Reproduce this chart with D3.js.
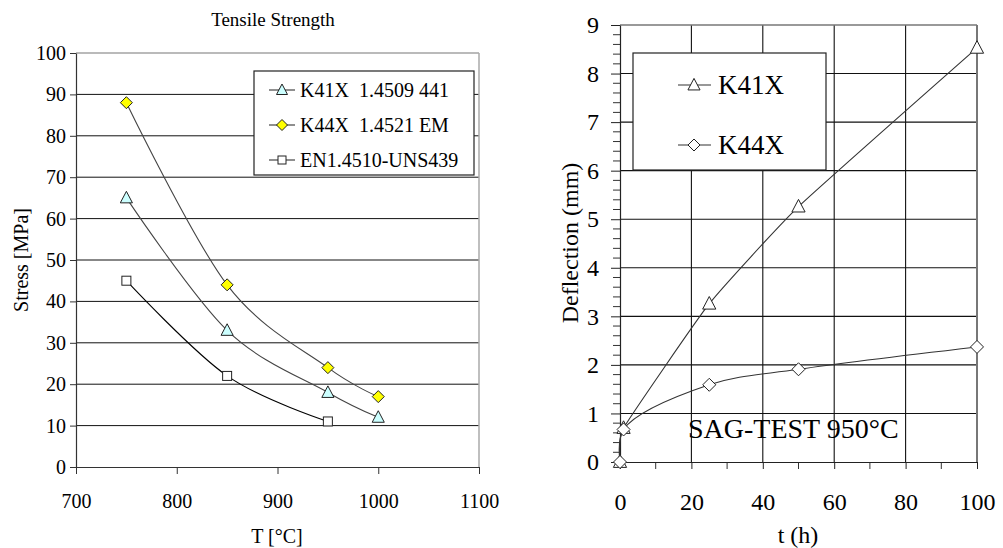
<!DOCTYPE html>
<html>
<head>
<meta charset="utf-8">
<script src="https://cdn.jsdelivr.net/npm/d3@7"></script>
<style>
  body { margin: 0; background: #fff; }
  text { font-family: "Liberation Serif", "Times New Roman", serif; fill: #000; }
</style>
</head>
<body>
<svg id="chart" width="1003" height="548"></svg>
<script>
// left chart: tensile strength
const tempTicks = [700, 800, 900, 1000, 1100];
const stressTicks = [0, 10, 20, 30, 40, 50, 60, 70, 80, 90, 100];
const tensileSeries = ["K41X  1.4509 441", "K44X  1.4521 EM", "EN1.4510-UNS439"];
const k41xTemp = [750, 850, 950, 1000];
const k41xStress = [65, 33, 18, 12];
const k44xTemp = [750, 850, 950, 1000];
const k44xStress = [88, 44, 24, 17];
const enTemp = [750, 850, 950];
const enStress = [45, 22, 11];

// right chart: sag test
const hourTicks = [0, 20, 40, 60, 80, 100];
const deflTicks = [0, 1, 2, 3, 4, 5, 6, 7, 8, 9];
const sagSeries = ["K41X", "K44X"];
const k41xHours = [0, 1, 25, 50, 100];
const k41xDefl = [0, 0.7, 3.26, 5.26, 8.53];
const k44xHours = [0, 1, 25, 50, 100];
const k44xDefl = [0, 0.67, 1.59, 1.91, 2.37];

const SERIF = "'Liberation Serif', 'Times New Roman', serif";
const svg = d3.select("#chart");

function zip(xs, ys) {
  return xs.map((x, i) => [x, ys[i]]);
}

function marker(sel, shape, size, fill) {
  if (shape == "triangle") {
    sel.append("path").attr("d", `M0,${-size*0.6}L${size*0.55},${size*0.45}L${-size*0.55},${size*0.45}Z`);
  } else if (shape == "diamond") {
    sel.append("path").attr("d", `M0,${-size/2}L${size/2},0L0,${size/2}L${-size/2},0Z`);
  } else {
    sel.append("rect").attr("x", -size/2).attr("y", -size/2).attr("width", size).attr("height", size);
  }
  sel.selectAll("path,rect").attr("fill", fill).attr("stroke", "#222").attr("stroke-width", 1);
}

function label(g, txt, size) {
  return g.append("text").style("font-family", SERIF).style("font-size", size + "px").text(txt);
}

// ---------- left chart ----------
(function () {
  const x = d3.scaleLinear().domain([700, 1100]).range([76, 479]);
  const y = d3.scaleLinear().domain([0, 100]).range([467, 53]);
  const g = svg.append("g");

  label(g, "Tensile Strength", 19).attr("x", 273).attr("y", 26).attr("text-anchor", "middle");

  // gridlines
  g.selectAll(".grid").data(stressTicks.slice(1, -1)).enter().append("line")
    .attr("x1", x(700)).attr("x2", x(1100))
    .attr("y1", d => y(d)).attr("y2", d => y(d))
    .attr("stroke", "#111").attr("stroke-width", 1);
  // plot border
  g.append("line").attr("x1", x(700)).attr("x2", x(1100)).attr("y1", y(100)).attr("y2", y(100))
    .attr("stroke", "#777").attr("stroke-width", 1.2);
  g.append("line").attr("x1", x(1100)).attr("x2", x(1100)).attr("y1", y(100)).attr("y2", y(0))
    .attr("stroke", "#aaa").attr("stroke-width", 1.5);

  const yAxis = g.append("g").attr("transform", `translate(${x(700)},0)`)
    .call(d3.axisLeft(y).tickValues(stressTicks).tickSize(6).tickPadding(4).tickSizeOuter(0));
  const xAxis = g.append("g").attr("transform", `translate(0,${y(0)})`)
    .call(d3.axisBottom(x).tickValues(tempTicks).tickFormat(d3.format("d"))
      .tickSize(7).tickPadding(20).tickSizeOuter(0));
  [xAxis, yAxis].forEach(a => {
    a.attr("font-family", null);
    a.select(".domain").attr("stroke", "#333").attr("stroke-width", 1.2);
    a.selectAll(".tick line").attr("stroke", "#333");
    a.selectAll("text").style("font-size", "20px").style("font-family", SERIF);
  });

  label(g, "Stress [MPa]", 20).attr("transform", "translate(28,260) rotate(-90)").attr("text-anchor", "middle");
  label(g, "T [°C]", 20).attr("x", 277).attr("y", 543).attr("text-anchor", "middle");

  const line = d3.line().x(d => x(d[0])).y(d => y(d[1])).curve(d3.curveCardinal.tension(0));
  const series = [
    { pts: zip(k41xTemp, k41xStress), shape: "triangle", fill: "#ccffff", color: "#444", size: 11 },
    { pts: zip(k44xTemp, k44xStress), shape: "diamond", fill: "#ffff00", color: "#444", size: 12 },
    { pts: zip(enTemp, enStress), shape: "square", fill: "#fff", color: "#000", size: 9 }
  ];
  series.forEach(s => {
    g.append("path").attr("d", line(s.pts)).attr("fill", "none")
      .attr("stroke", s.color).attr("stroke-width", 1.1);
    s.pts.forEach(p => {
      marker(g.append("g").attr("transform", `translate(${x(p[0])},${y(p[1])})`), s.shape, s.size, s.fill);
    });
  });

  // legend
  const lg = g.append("g");
  lg.append("rect").attr("x", 254).attr("y", 71).attr("width", 220).attr("height", 104)
    .attr("fill", "#fff").attr("stroke", "#222").attr("stroke-width", 1.2);
  tensileSeries.forEach((name, i) => {
    const ly = 90 + i * 35;
    lg.append("line").attr("x1", 269).attr("x2", 295).attr("y1", ly).attr("y2", ly)
      .attr("stroke", "#333").attr("stroke-width", 1.1);
    marker(lg.append("g").attr("transform", `translate(282,${ly})`), series[i].shape, series[i].size - 1, series[i].fill);
    label(lg, name, 20).attr("x", 300).attr("y", ly + 7).style("white-space", "pre");
  });
})();

// ---------- right chart ----------
(function () {
  const x = d3.scaleLinear().domain([0, 100]).range([620, 977]);
  const y = d3.scaleLinear().domain([0, 9]).range([462, 25]);
  const g = svg.append("g");

  g.selectAll(".hgrid").data(deflTicks.slice(1, -1)).enter().append("line")
    .attr("x1", x(0)).attr("x2", x(100))
    .attr("y1", d => y(d)).attr("y2", d => y(d))
    .attr("stroke", "#111").attr("stroke-width", 1.1);
  g.selectAll(".vgrid").data(hourTicks.slice(1, -1)).enter().append("line")
    .attr("x1", d => x(d)).attr("x2", d => x(d))
    .attr("y1", y(0)).attr("y2", y(9))
    .attr("stroke", "#111").attr("stroke-width", 1.1);
  g.append("line").attr("x1", x(0)).attr("x2", x(100)).attr("y1", y(9)).attr("y2", y(9))
    .attr("stroke", "#777").attr("stroke-width", 1.5);
  g.append("line").attr("x1", x(100)).attr("x2", x(100)).attr("y1", y(9)).attr("y2", y(0))
    .attr("stroke", "#777").attr("stroke-width", 2);

  const minorY = d3.range(0, 9.01, 0.2).filter(v => Math.abs(v - Math.round(v)) > 0.01);
  g.selectAll(".mty").data(minorY).enter().append("line")
    .attr("x1", x(0) - 7).attr("x2", x(0)).attr("y1", d => y(d)).attr("y2", d => y(d))
    .attr("stroke", "#333");
  const minorX = d3.range(10, 100, 20);
  g.selectAll(".mtx").data(minorX).enter().append("line")
    .attr("x1", d => x(d)).attr("x2", d => x(d)).attr("y1", y(0)).attr("y2", y(0) + 7)
    .attr("stroke", "#333");

  const yAxis = g.append("g").attr("transform", `translate(${x(0)},0)`)
    .call(d3.axisLeft(y).tickValues(deflTicks).tickSize(9).tickPadding(12).tickSizeOuter(0));
  const xAxis = g.append("g").attr("transform", `translate(0,${y(0)})`)
    .call(d3.axisBottom(x).tickValues(hourTicks).tickSize(7).tickPadding(24).tickSizeOuter(0));
  [xAxis, yAxis].forEach(a => {
    a.attr("font-family", null);
    a.select(".domain").attr("stroke", "#222").attr("stroke-width", 1.2);
    a.selectAll(".tick line").attr("stroke", "#222");
    a.selectAll("text").style("font-size", "24px").style("font-family", SERIF);
  });

  label(g, "Deflection (mm)", 24).attr("transform", "translate(578,243) rotate(-90)").attr("text-anchor", "middle");
  label(g, "t (h)", 24).attr("x", 798).attr("y", 543).attr("text-anchor", "middle");

  const series = [
    { pts: zip(k41xHours, k41xDefl), shape: "triangle", size: 12, curve: d3.curveCardinal.tension(0.6) },
    { pts: zip(k44xHours, k44xDefl), shape: "diamond", size: 13, curve: d3.curveCatmullRom.alpha(0.5) }
  ];
  series.forEach(s => {
    const line = d3.line().x(d => x(d[0])).y(d => y(d[1])).curve(s.curve);
    g.append("path").attr("d", line(s.pts)).attr("fill", "none")
      .attr("stroke", "#333").attr("stroke-width", 1.1);
  });
  series.forEach(s => {
    s.pts.forEach(p => {
      marker(g.append("g").attr("transform", `translate(${x(p[0])},${y(p[1])})`), s.shape, s.size, "#fff");
    });
  });

  label(g, "SAG-TEST 950°C", 28).attr("x", 688).attr("y", 438);

  const lg = g.append("g");
  lg.append("rect").attr("x", 633).attr("y", 53).attr("width", 193).attr("height", 117)
    .attr("fill", "#fff").attr("stroke", "#222").attr("stroke-width", 1.2);
  sagSeries.forEach((name, i) => {
    const ly = 85 + i * 60;
    lg.append("line").attr("x1", 678).attr("x2", 711).attr("y1", ly).attr("y2", ly)
      .attr("stroke", "#333").attr("stroke-width", 1.1);
    marker(lg.append("g").attr("transform", `translate(694,${ly})`), series[i].shape, series[i].size - 1, "#fff");
    label(lg, name, 27).attr("x", 718).attr("y", ly + 9);
  });
})();
</script>
</body>
</html>
